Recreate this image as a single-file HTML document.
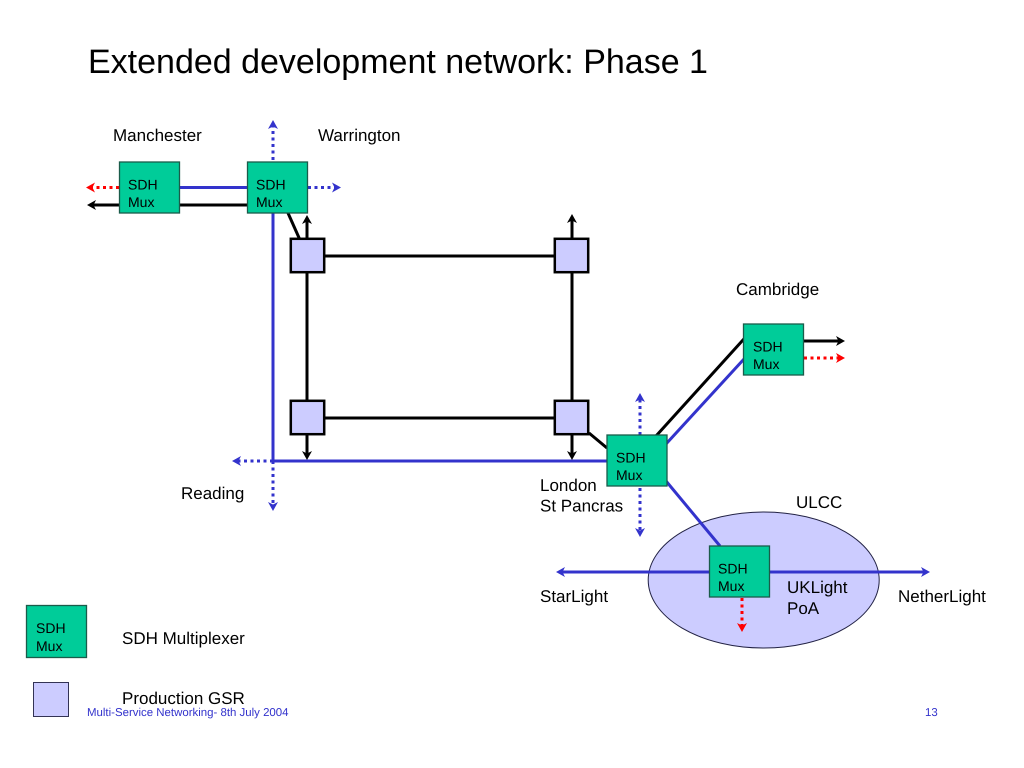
<!DOCTYPE html>
<html><head><meta charset="utf-8"><style>html,body{margin:0;padding:0;background:#fff}svg{display:block}text{font-family:"Liberation Sans",sans-serif;fill:#000;text-rendering:geometricPrecision}</style></head><body>
<svg width="1024" height="768" viewBox="0 0 1024 768" xmlns="http://www.w3.org/2000/svg">
<defs>
<marker id="k" markerUnits="userSpaceOnUse" markerWidth="11" markerHeight="11" refX="3" refY="5.500" orient="auto"><path d="M0 .5L9 5.500L0 10.500L2.500 5.500Z" fill="#000"/></marker>
<marker id="b" markerUnits="userSpaceOnUse" markerWidth="11" markerHeight="11" refX="3" refY="5.500" orient="auto"><path d="M0 .5L9 5.500L0 10.500L2.500 5.500Z" fill="#3333cc"/></marker>
<marker id="r" markerUnits="userSpaceOnUse" markerWidth="11" markerHeight="11" refX="3" refY="5.500" orient="auto"><path d="M0 .5L9 5.500L0 10.500L2.500 5.500Z" fill="#ff0000"/></marker>
</defs>
<text x="88" y="73" font-size="34">Extended development network: Phase 1</text>
<g fill="none" stroke="#3333cc" stroke-width="3">
<path d="M180 187.500H248"/>
<path d="M273 213V461H607"/>
<path d="M666 444L744 359"/>
</g>
<g fill="none" stroke="#000" stroke-width="3">
<path d="M180 205H93" marker-end="url(#k)"/>
<path d="M248 205H180"/>
<path d="M288 213L300 240"/>
<path d="M307 240V221" marker-end="url(#k)"/>
<path d="M325 256H555"/>
<path d="M307 273V400"/>
<path d="M572 273V400"/>
<path d="M572 238V220" marker-end="url(#k)"/>
<path d="M325 418H555"/>
<path d="M307 435V454" marker-end="url(#k)"/>
<path d="M572 435V454" marker-end="url(#k)"/>
<path d="M589 433L607 448"/>
<path d="M656 436L757 324.500"/>
<path d="M804 341H839" marker-end="url(#k)"/>
</g>
<ellipse cx="763.700" cy="580" rx="115.500" ry="68" fill="#ccccff" stroke="#222244" stroke-width="1"/>
<g fill="none" stroke="#3333cc" stroke-width="3">
<path d="M666 481L720 546"/>
<path d="M650 572H562" marker-end="url(#b)"/>
<path d="M650 572H924" marker-end="url(#b)"/>
</g>
<g fill="none" stroke="#3333cc" stroke-width="3" stroke-dasharray="3 3.500">
<path d="M273 160V126" marker-end="url(#b)"/>
<path d="M308 187.500H335" marker-end="url(#b)"/>
<path d="M273 461H238" marker-end="url(#b)"/>
<path d="M273 461V505" marker-end="url(#b)"/>
<path d="M640 435V399" marker-end="url(#b)"/>
<path d="M640 488V531" marker-end="url(#b)"/>
</g>
<g fill="none" stroke="#ff0000" stroke-width="3" stroke-dasharray="3 3.500">
<path d="M119 187.500H92" marker-end="url(#r)"/>
<path d="M804 358H839" marker-end="url(#r)"/>
<path d="M742 598V626" marker-end="url(#r)"/>
</g>
<g fill="#00cc99" stroke="#1a5c4a" stroke-width="1.300">
<rect x="119.500" y="162" width="60" height="51"/>
<rect x="247.500" y="162" width="60" height="51"/>
<rect x="743.500" y="324" width="60" height="51"/>
<rect x="607" y="435" width="60" height="51"/>
<rect x="709.500" y="546" width="60" height="51"/>
<rect x="26.500" y="605.500" width="60" height="52"/>
</g>
<g fill="#ccccff" stroke="#000" stroke-width="2.500">
<rect x="290.800" y="238.800" width="33.400" height="33.400"/>
<rect x="554.800" y="238.800" width="33.400" height="33.400"/>
<rect x="290.800" y="400.800" width="33.400" height="33.400"/>
<rect x="554.800" y="400.800" width="33.400" height="33.400"/>
</g>
<rect x="33.500" y="682.500" width="35" height="34" fill="#ccccff" stroke="#333355" stroke-width="1"/>
<g font-size="14">
<text x="128" y="189.300">SDH</text><text x="128" y="207">Mux</text>
<text x="256" y="189.300">SDH</text><text x="256" y="207">Mux</text>
<text x="753" y="351.300">SDH</text><text x="753" y="369">Mux</text>
<text x="616" y="462.300">SDH</text><text x="616" y="480">Mux</text>
<text x="718" y="573.300">SDH</text><text x="718" y="591">Mux</text>
<text x="36" y="633">SDH</text><text x="36" y="651">Mux</text>
</g>
<g font-size="17">
<text x="113" y="141">Manchester</text>
<text x="318" y="141">Warrington</text>
<text x="736" y="295">Cambridge</text>
<text x="181" y="499">Reading</text>
<text x="540" y="491">London</text>
<text x="540" y="511.500">St Pancras</text>
<text x="796" y="508">ULCC</text>
<text x="540" y="602">StarLight</text>
<text x="787" y="593">UKLight</text>
<text x="787" y="614">PoA</text>
<text x="898" y="602">NetherLight</text>
<text x="122" y="644">SDH Multiplexer</text>
<text x="122" y="704">Production GSR</text>
</g>
<text x="87" y="716" font-size="11.450" style="fill:#3333cc">Multi-Service Networking- 8th July 2004</text>
<text x="925" y="716" font-size="11.450" style="fill:#3333cc">13</text>
</svg>
</body></html>
